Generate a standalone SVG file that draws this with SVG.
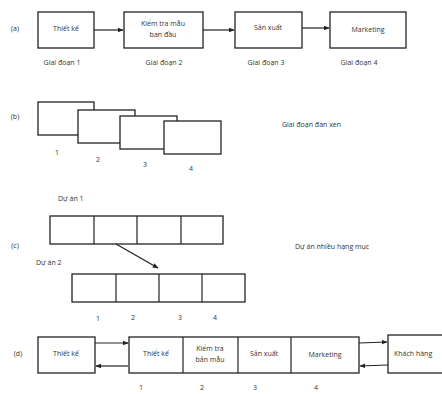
<svg xmlns="http://www.w3.org/2000/svg" width="442" height="394" viewBox="0 0 442 394">
<style>
.b{fill:#fff;stroke:#222;stroke-width:1.3}
.l{stroke:#222;stroke-width:1.2;fill:none}
.t{font-family:"Open Sans","Liberation Sans",sans-serif;font-size:7px;fill:#333;text-anchor:middle}
.s{text-anchor:start}
</style>
<defs>
<marker id="ah" viewBox="0 0 10 10" refX="9" refY="5" markerWidth="6" markerHeight="6" orient="auto" markerUnits="userSpaceOnUse"><path d="M0,1 L10,5 L0,9 z" fill="#222"/></marker>
</defs>
<rect width="442" height="394" fill="#fff"/>
<g id="labels">
<text class="t" x="15" y="31">(a)</text>
<text class="t" x="15" y="119">(b)</text>
<text class="t" x="15" y="248">(c)</text>
<text class="t" x="18" y="356">(d)</text>
</g>
<g id="row-a">
<g id="a1"><rect class="b" x="38" y="12" width="56" height="36"/><text class="t" x="66" y="31">Thiết kế</text><text class="t" x="62" y="65">Giai đoạn 1</text></g>
<g id="a2"><rect class="b" x="124" y="12" width="79" height="36"/><text class="t" x="163" y="26">Kiểm tra mẫu</text><text class="t" x="163" y="37">ban đầu</text><text class="t" x="164" y="65">Giai đoạn 2</text></g>
<g id="a3"><rect class="b" x="235" y="12" width="67" height="36"/><text class="t" x="268" y="30">Sản xuất</text><text class="t" x="266" y="65">Giai đoạn 3</text></g>
<g id="a4"><rect class="b" x="330" y="12" width="76" height="36"/><text class="t" x="368" y="32">Marketing</text><text class="t" x="359" y="65">Giai đoạn 4</text></g>
</g>
<g id="row-b">
<g id="b1"><rect class="b" x="38" y="102" width="56" height="33"/><text class="t" x="57" y="155">1</text></g>
<g id="b2"><rect class="b" x="78" y="110" width="57" height="33"/><text class="t" x="98" y="162">2</text></g>
<g id="b3"><rect class="b" x="120" y="116" width="57" height="33"/><text class="t" x="145" y="167">3</text></g>
<g id="b4"><rect class="b" x="164" y="121" width="57" height="33"/><text class="t" x="191" y="171">4</text></g>
<text class="t s" x="282" y="127">Giai đoạn đan xen</text>
</g>
<g id="row-c">
<text class="t s" x="58" y="201">Dự án 1</text>
<g id="c1"><rect class="b" x="50" y="216" width="173" height="28"/><path class="l" d="M94,216V244M137,216V244M181,216V244"/></g>
<text class="t s" x="36" y="265">Dự án 2</text>
<g id="c2"><rect class="b" x="72" y="274" width="173" height="28"/><path class="l" d="M116,274V302M159,274V302M202,274V302"/></g>
<text class="t" x="98" y="321">1</text>
<text class="t" x="133" y="320">2</text>
<text class="t" x="180" y="320">3</text>
<text class="t" x="215" y="320">4</text>
<text class="t s" x="295" y="249">Dự án nhiều hạng mục</text>
</g>
<g id="row-d">
<g id="d1"><rect class="b" x="38" y="337" width="57" height="36"/><text class="t" x="66" y="356">Thiết kế</text></g>
<g id="d2"><rect class="b" x="129" y="337" width="230" height="36"/><path class="l" d="M183,337V373M238,337V373M291,337V373"/>
<text class="t" x="156" y="356">Thiết kế</text>
<text class="t" x="210" y="351">Kiểm tra</text><text class="t" x="210" y="362">bản mẫu</text>
<text class="t" x="264" y="356">Sản xuất</text>
<text class="t" x="325" y="357">Marketing</text></g>
<g id="d3"><rect class="b" x="388" y="335" width="70" height="38"/><text class="t s" x="394" y="356">Khách hàng</text></g>
<text class="t" x="141" y="390">1</text>
<text class="t" x="202" y="390">2</text>
<text class="t" x="255" y="390">3</text>
<text class="t" x="316" y="390">4</text>
</g>
<g id="connectors">
<line class="l" x1="94" y1="30" x2="123" y2="30" marker-end="url(#ah)"/>
<line class="l" x1="203" y1="30" x2="234" y2="30" marker-end="url(#ah)"/>
<line class="l" x1="302" y1="28" x2="329" y2="28" marker-end="url(#ah)"/>
<line class="l" x1="116" y1="244" x2="158" y2="268" marker-end="url(#ah)"/>
<line class="l" x1="95" y1="343" x2="128" y2="343" marker-end="url(#ah)"/>
<line class="l" x1="128" y1="366" x2="96" y2="366" marker-end="url(#ah)"/>
<line class="l" x1="359" y1="343" x2="387" y2="342" marker-end="url(#ah)"/>
<line class="l" x1="388" y1="365" x2="360" y2="366" marker-end="url(#ah)"/>
</g>
</svg>
